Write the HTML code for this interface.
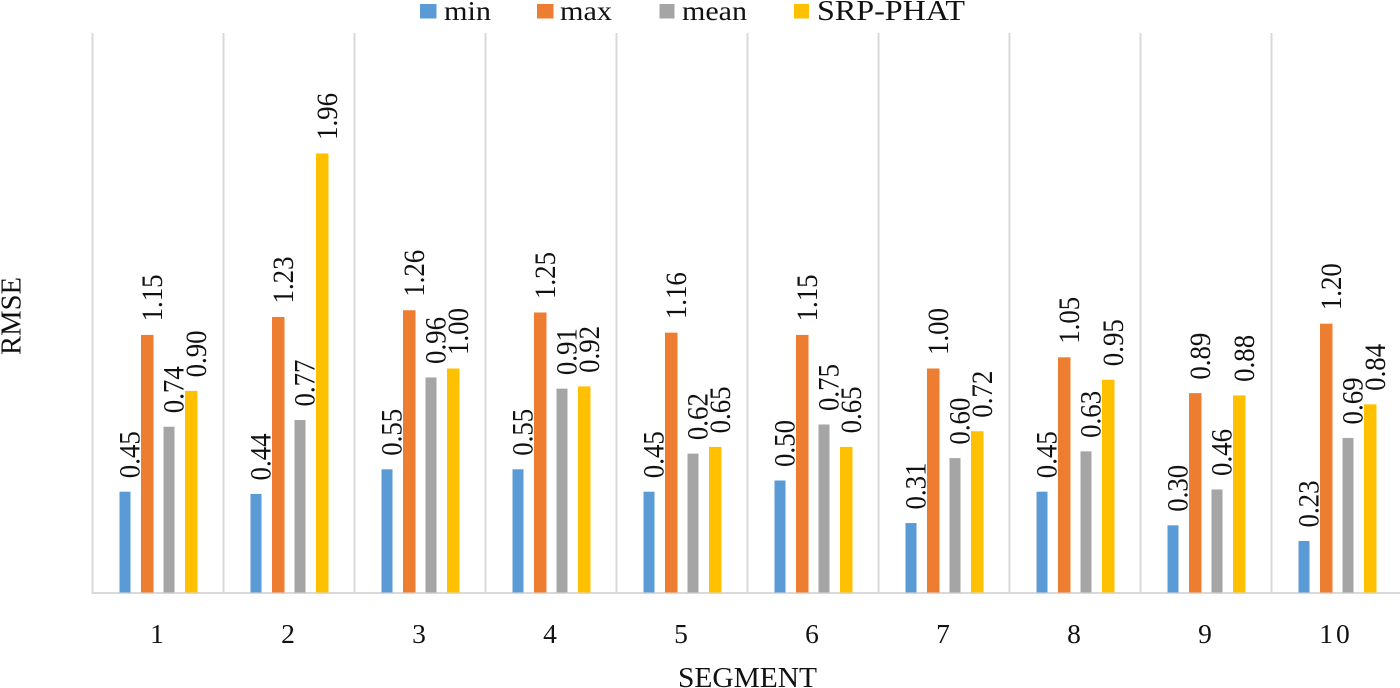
<!DOCTYPE html>
<html lang="en">
<head>
<meta charset="utf-8">
<title>RMSE per segment</title>
<style>
  html, body { margin: 0; padding: 0; background: #fff; }
  svg { display: block; font-family: "Liberation Serif", "DejaVu Serif", serif; fill: #111; }
</style>
</head>
<body>
<svg id="chart" width="1400" height="688" viewBox="0 0 1400 688" xmlns="http://www.w3.org/2000/svg">
  <text transform="translate(20.5,355) rotate(-90)" font-size="29" textLength="78" lengthAdjust="spacingAndGlyphs">RMSE</text>
  <text x="678" y="687" font-size="29" textLength="139" lengthAdjust="spacingAndGlyphs">SEGMENT</text>
  <g>
    <g>
      <rect x="420" y="4" width="16.5" height="14.5" fill="#5b9bd5"></rect>
      <text x="444" y="20" font-size="27" textLength="47" lengthAdjust="spacingAndGlyphs">min</text>
    </g>
    <g>
      <rect x="537" y="4" width="16.5" height="14.5" fill="#ed7d31"></rect>
      <text x="560" y="20" font-size="27" textLength="52" lengthAdjust="spacingAndGlyphs">max</text>
    </g>
    <g>
      <rect x="659.5" y="4" width="15" height="14.5" fill="#a5a5a5"></rect>
      <text x="682" y="20" font-size="27" textLength="65" lengthAdjust="spacingAndGlyphs">mean</text>
    </g>
    <g>
      <rect x="794" y="4" width="15" height="14.5" fill="#ffc000"></rect>
      <text x="817" y="20" font-size="28" textLength="148" lengthAdjust="spacingAndGlyphs">SRP-PHAT</text>
    </g>
  </g>
  <g id="grid"></g>
  <g id="bars"></g>
  <g id="labels"></g>
  <g id="ticks"></g>
</svg>
<script>
const categories = ["1", "2", "3", "4", "5", "6", "7", "8", "9", "10"];
const minValues = [0.45, 0.44, 0.55, 0.55, 0.45, 0.50, 0.31, 0.45, 0.30, 0.23];
const maxValues = [1.15, 1.23, 1.26, 1.25, 1.16, 1.15, 1.00, 1.05, 0.89, 1.20];
const meanValues = [0.74, 0.77, 0.96, 0.91, 0.62, 0.75, 0.60, 0.63, 0.46, 0.69];
const srpPhatValues = [0.90, 1.96, 1.00, 0.92, 0.65, 0.65, 0.72, 0.95, 0.88, 0.84];

const SVG_NS = 'http://www.w3.org/2000/svg';
const plotLeft = 92.5, bandWidth = 131, baseY = 592.5, topY = 33, unitPx = 224;
const seriesList = [
  { key: 'min', values: minValues, color: '#5b9bd5', offset: 27, width: 11 },
  { key: 'max', values: maxValues, color: '#ed7d31', offset: 48.5, width: 12.5 },
  { key: 'mean', values: meanValues, color: '#a5a5a5', offset: 71, width: 11 },
  { key: 'srp-phat', values: srpPhatValues, color: '#ffc000', offset: 92.5, width: 12.5 }
];
const xBand = i => plotLeft + i * bandWidth;
const yValue = v => baseY - v * unitPx;

const grid = document.getElementById('grid');
const bars = document.getElementById('bars');
const labels = document.getElementById('labels');
const ticks = document.getElementById('ticks');

function addLine(x1, y1, x2, y2) {
  const line = document.createElementNS(SVG_NS, 'line');
  line.setAttribute('x1', x1);
  line.setAttribute('y1', y1);
  line.setAttribute('x2', x2);
  line.setAttribute('y2', y2);
  line.setAttribute('stroke', '#d9d9d9');
  line.setAttribute('stroke-width', '2');
  grid.appendChild(line);
  return line;
}

categories.forEach((cat, i) => {
  const gridLine = addLine(xBand(i), topY, xBand(i), baseY + 1);
  
  

  const tick = document.createElementNS(SVG_NS, 'text');
  
  
  tick.setAttribute('x', xBand(i) + bandWidth / 2 - 1);
  tick.setAttribute('y', 643);
  tick.setAttribute('font-size', '27.5');
  tick.setAttribute('text-anchor', 'middle');
  if (cat.length > 1) tick.setAttribute('letter-spacing', '3');
  tick.textContent = cat;
  ticks.appendChild(tick);

  seriesList.forEach(s => {
    const value = s.values[i];
    const rect = document.createElementNS(SVG_NS, 'rect');
    
    
    rect.setAttribute('x', xBand(i) + s.offset);
    rect.setAttribute('y', yValue(value));
    rect.setAttribute('width', s.width);
    rect.setAttribute('height', baseY - yValue(value));
    rect.setAttribute('fill', s.color);
    bars.appendChild(rect);

    const label = document.createElementNS(SVG_NS, 'text');
    
    
    const lx = xBand(i) + s.offset + s.width / 2 + 14.5;
    const ly = yValue(value) - 13.5;
    label.setAttribute('transform', 'translate(' + lx + ',' + ly + ') rotate(-90)');
    label.setAttribute('font-size', '29.5');
    label.setAttribute('textLength', '47');
    label.setAttribute('lengthAdjust', 'spacingAndGlyphs');
    label.textContent = value.toFixed(2);
    labels.appendChild(label);
  });
});

const finalGrid = addLine(xBand(categories.length), topY, xBand(categories.length), baseY + 1);


const axisLine = addLine(plotLeft - 1, baseY + 0.5, 1400, baseY + 0.5);


</script>
</body>
</html>
